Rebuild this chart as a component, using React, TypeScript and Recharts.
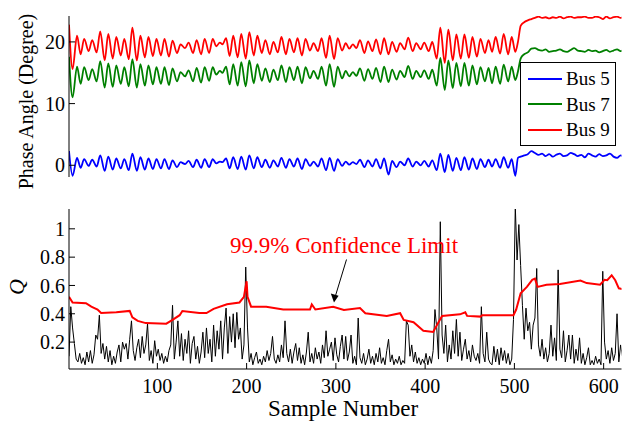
import React from 'react'
import { LineChart, Line, XAxis, YAxis, Legend } from 'recharts'

// top panel: phase angles, read at peaks/troughs of the swing
const samples = [
  1, 5, 10, 14, 18, 23, 27, 32, 36, 41,
  45, 50, 54, 59, 63, 68, 72, 77, 81, 86,
  90, 95, 99, 104, 108, 113, 117, 122, 126, 131,
  135, 140, 144, 149, 153, 158, 162, 166, 170, 173,
  177, 181, 185, 190, 194, 199, 203, 208, 212, 217,
  221, 226, 230, 235, 239, 244, 248, 253, 257, 262,
  266, 271, 275, 280, 284, 289, 293, 298, 302, 307,
  311, 315, 319, 323, 327, 332, 336, 341, 345, 350,
  354, 359, 363, 368, 372, 377, 381, 386, 390, 395,
  399, 404, 408, 413, 417, 422, 426, 431, 435, 440,
  444, 449, 453, 458, 462, 467, 471, 475, 479, 484,
  488, 493, 497, 501, 504, 507, 511, 515, 519, 523,
  527, 531, 535, 539, 543, 547, 551, 555, 559, 563,
  567, 571, 575, 579, 583, 587, 591, 595, 599, 603,
  607, 611, 615, 619, 621,
]

const bus9 = [
  22.8, 15.6, 21.0, 18.0, 20.5, 18.5, 20.3, 18.3, 21.7, 17.0,
  21.3, 17.3, 20.8, 17.8, 20.5, 17.2, 22.3, 17.0, 21.0, 17.5,
  20.8, 17.7, 20.5, 17.8, 20.5, 17.6, 20.2, 18.2, 19.6, 19.0,
  19.9, 18.2, 20.3, 18.0, 20.5, 18.2, 20.5, 19.3, 19.9, 19.6,
  20.6, 17.7, 21.0, 17.5, 21.3, 17.3, 21.6, 17.8, 21.0, 18.2,
  20.3, 18.0, 20.0, 18.3, 20.8, 18.0, 20.5, 18.3, 20.6, 17.8,
  20.5, 18.6, 19.8, 18.5, 20.6, 17.4, 21.0, 17.2, 20.6, 18.6,
  19.8, 18.9, 19.6, 19.0, 20.3, 18.2, 20.1, 18.5, 20.4, 18.0,
  20.6, 18.0, 20.0, 18.4, 19.8, 18.8, 20.7, 18.5, 19.8, 18.8,
  19.9, 18.5, 20.0, 17.3, 22.3, 16.6, 22.0, 17.0, 21.2, 17.3,
  21.2, 17.4, 20.8, 17.6, 20.5, 18.2, 20.3, 18.4, 20.8, 18.1,
  21.3, 18.0, 20.8, 18.4, 20.0, 22.6, 23.2, 23.5, 23.7, 23.9,
  24.1, 23.9, 24.0, 23.8, 24.0, 23.9, 24.1, 23.8, 24.0, 24.1,
  23.9, 24.0, 24.0, 24.1, 23.9, 23.9, 24.1, 24.0, 23.7, 24.1,
  23.8, 24.0, 24.1, 23.9, 24.0,
]

const bus7 = [
  17.6, 11.0, 16.0, 13.2, 15.9, 13.8, 15.6, 13.6, 16.9, 12.6,
  16.5, 12.7, 16.2, 13.2, 15.9, 12.8, 17.2, 12.6, 16.4, 12.9,
  16.2, 13.1, 15.9, 13.2, 15.9, 13.0, 15.7, 13.6, 15.1, 14.4,
  15.4, 13.6, 15.8, 13.4, 15.9, 13.7, 15.9, 14.7, 15.3, 15.0,
  16.0, 13.1, 16.4, 12.9, 16.7, 12.8, 17.0, 13.3, 16.4, 13.7,
  15.7, 13.5, 15.5, 13.8, 16.2, 13.5, 15.9, 13.8, 16.0, 13.3,
  15.9, 14.1, 15.3, 14.0, 16.0, 12.9, 16.4, 12.7, 16.0, 14.1,
  15.3, 14.4, 15.1, 14.5, 15.7, 13.7, 15.6, 14.0, 15.8, 13.5,
  16.0, 13.5, 15.5, 13.9, 15.3, 14.3, 16.1, 14.0, 15.3, 14.3,
  15.4, 14.0, 15.5, 12.9, 17.4, 12.2, 17.0, 12.5, 16.6, 12.8,
  16.6, 12.9, 16.2, 13.1, 15.9, 13.6, 15.8, 13.3, 16.0, 13.2,
  16.3, 13.6, 16.0, 13.8, 15.2, 17.3, 18.0, 18.3, 18.9, 19.0,
  18.7, 18.6, 18.8, 18.4, 18.5, 18.6, 18.8, 18.5, 18.4, 18.7,
  19.0, 18.6, 18.5, 18.4, 18.7, 18.5, 18.6, 18.3, 18.5, 18.7,
  18.4, 18.6, 18.8, 18.5, 18.6,
]

const bus5 = [
  2.3, -1.7, 1.2, -0.4, 1.0, -0.1, 0.9, -0.2, 1.6, -0.9,
  1.4, -0.7, 1.1, -0.5, 1.0, -0.8, 1.9, -0.9, 1.3, -0.7,
  1.1, -0.6, 1.0, -0.5, 1.0, -0.6, 0.8, -0.3, 0.5, 0.2,
  0.7, -0.3, 0.9, -0.4, 1.0, -0.3, 1.0, 0.3, 0.6, 0.5,
  1.1, -0.5, 1.3, -0.6, 1.4, -0.7, 1.6, -0.5, 1.3, -0.3,
  0.9, -0.4, 0.8, -0.2, 1.2, -0.4, 1.0, -0.2, 1.1, -0.6,
  1.0, -0.1, 0.6, -0.2, 1.1, -0.8, 1.2, -0.9, 1.0, -0.1,
  0.6, 0.1, 0.5, 0.2, 0.9, -0.3, 0.8, -0.2, 1.0, -0.5,
  1.1, -1.5, 0.7, -0.3, 0.6, 0.0, 1.1, -0.2, 0.6, 0.0,
  0.7, -0.2, 0.8, -0.8, 1.9, -1.1, 1.7, -0.9, 1.2, -0.8,
  1.3, -0.7, 1.1, -0.6, 1.0, -0.3, 0.9, -0.2, 1.0, -0.4,
  1.3, -0.4, 1.0, -1.7, 1.2, 1.4, 1.6, 1.8, 2.3, 2.0,
  1.7, 1.9, 1.5, 1.8, 1.4, 1.7, 1.9, 1.5, 1.6, 2.0,
  1.8, 1.5, 1.7, 1.3, 1.9, 1.6, 1.4, 1.8, 1.5, 1.6,
  1.9, 1.4, 1.2, 1.6, 1.5,
]

// bottom panel: Q statistic, one value every second sample starting at 1
const qStat = [
  0.10, 0.45, 0.30, 0.19, 0.08, 0.06, 0.12, 0.05, 0.09, 0.04,
  0.13, 0.06, 0.14, 0.05, 0.11, 0.25, 0.22, 0.39, 0.12, 0.19,
  0.08, 0.17, 0.06, 0.14, 0.04, 0.10, 0.05, 0.13, 0.18, 0.06,
  0.20, 0.15, 0.19, 0.08, 0.22, 0.35, 0.14, 0.07, 0.16, 0.22,
  0.09, 0.24, 0.12, 0.18, 0.33, 0.07, 0.14, 0.05, 0.21, 0.10,
  0.15, 0.07, 0.12, 0.05, 0.10, 0.06, 0.14, 0.18, 0.46, 0.08,
  0.20, 0.35, 0.10, 0.26, 0.07, 0.22, 0.12, 0.28, 0.05, 0.19,
  0.24, 0.08, 0.17, 0.05, 0.13, 0.27, 0.09, 0.30, 0.12, 0.22,
  0.06, 0.32, 0.10, 0.28, 0.15, 0.35, 0.08, 0.30, 0.44, 0.12,
  0.38, 0.20, 0.40, 0.16, 0.41, 0.22, 0.30, 0.08, 0.18, 0.73,
  0.30, 0.06, 0.12, 0.04, 0.09, 0.13, 0.05, 0.08, 0.04, 0.10,
  0.06, 0.14, 0.07, 0.12, 0.24, 0.08, 0.05, 0.11, 0.06, 0.18,
  0.09, 0.35, 0.12, 0.06, 0.15, 0.05, 0.13, 0.19, 0.07, 0.16,
  0.05, 0.11, 0.04, 0.13, 0.27, 0.06, 0.12, 0.05, 0.16, 0.08,
  0.13, 0.05, 0.18, 0.09, 0.28, 0.10, 0.15, 0.20, 0.07, 0.23,
  0.11, 0.06, 0.17, 0.25, 0.08, 0.24, 0.07, 0.13, 0.25, 0.05,
  0.10, 0.04, 0.37, 0.09, 0.05, 0.12, 0.04, 0.08, 0.15, 0.05,
  0.10, 0.04, 0.12, 0.06, 0.16, 0.05, 0.09, 0.04, 0.14, 0.22,
  0.06, 0.11, 0.04, 0.08, 0.05, 0.10, 0.04, 0.07, 0.05, 0.35,
  0.32, 0.10, 0.18, 0.06, 0.13, 0.05, 0.09, 0.04, 0.08, 0.05,
  0.12, 0.04, 0.10, 0.05, 0.14, 0.43, 0.30, 0.08, 1.05, 0.25,
  0.12, 0.32, 0.06, 0.18, 0.08, 0.28, 0.12, 0.36, 0.10, 0.27,
  0.07, 0.15, 0.22, 0.08, 0.14, 0.06, 0.18, 0.10, 0.07, 0.12,
  0.05, 0.45, 0.12, 0.06, 0.27, 0.08, 0.05, 0.04, 0.17, 0.06,
  0.15, 0.04, 0.16, 0.07, 0.14, 0.05, 0.12, 0.04, 0.08, 0.36,
  1.16, 0.78, 1.03, 0.74, 0.46, 0.22, 0.44, 0.28, 0.34, 0.15,
  0.32, 0.37, 0.72, 0.18, 0.10, 0.22, 0.08, 0.16, 0.06, 0.12,
  0.32, 0.10, 0.23, 0.07, 0.71, 0.15, 0.09, 0.28, 0.06, 0.14,
  0.25, 0.08, 0.25, 0.05, 0.15, 0.07, 0.23, 0.05, 0.12, 0.04,
  0.09, 0.16, 0.04, 0.07, 0.04, 0.10, 0.05, 0.08, 0.04, 0.70,
  0.20, 0.08, 0.14, 0.05, 0.16, 0.07, 0.12, 0.40, 0.06, 0.18,
  0.10,
]

// 99.9% confidence limit
const limitSamples = [
  1, 5, 20, 26, 33, 37, 54, 69, 72, 78,
  87, 110, 117, 125, 128, 147, 155, 163, 178, 192,
  197, 200, 201, 205, 222, 241, 271, 273, 277, 297,
  309, 327, 333, 357, 372, 376, 387, 398, 409, 415,
  419, 439, 445, 447, 462, 464, 499, 502, 507, 514,
  520, 523, 526, 536, 551, 574, 581, 596, 601, 604,
  609, 613, 617, 621,
]
const limitValues = [
  0.52, 0.48, 0.475, 0.45, 0.43, 0.405, 0.41, 0.42, 0.375, 0.35,
  0.334, 0.33, 0.357, 0.39, 0.42, 0.405, 0.405, 0.435, 0.467, 0.48,
  0.52, 0.63, 0.52, 0.45, 0.45, 0.43, 0.43, 0.466, 0.43, 0.45,
  0.427, 0.44, 0.404, 0.385, 0.404, 0.357, 0.34, 0.28, 0.272, 0.34,
  0.385, 0.396, 0.41, 0.385, 0.38, 0.39, 0.39, 0.43, 0.545, 0.59,
  0.64, 0.648, 0.59, 0.605, 0.61, 0.635, 0.617, 0.605, 0.64, 0.637,
  0.672, 0.637, 0.58, 0.575,
]

const phaseTicks = [0, 10, 20]
const qTicks = [0.2, 0.4, 0.6, 0.8, 1]
const sampleTicks = [100, 200, 300, 400, 500, 600]

const FONT = '"Liberation Serif", "Times New Roman", serif'
const X_DOMAIN: [number, number] = [1, 620]

const phaseData = samples.map((s, i) => ({ s, bus5: bus5[i], bus7: bus7[i], bus9: bus9[i] }))
const qData = qStat.map((q, i) => ({ s: 1 + i * 2, q }))
const limitData = limitSamples.map((s, i) => ({ s, limit: limitValues[i] }))

const tickFont = { fill: '#000', fontSize: 20, fontFamily: FONT }
const black = { stroke: '#000', strokeWidth: 1 }

function PhaseLegend({ payload }: any) {
  return (
    <div
      style={{
        width: 96,
        height: 84,
        boxSizing: 'border-box',
        border: '1px solid #000',
        background: '#fff',
        paddingTop: 3,
      }}
    >
      {(payload || []).map((p: any) => (
        <div key={p.value} style={{ display: 'flex', alignItems: 'center', height: 25.5 }}>
          <span style={{ width: 34, borderTop: `2px solid ${p.color}`, marginLeft: 7, marginRight: 4 }} />
          <span style={{ fontFamily: FONT, fontSize: 19, lineHeight: 1, color: '#000' }}>{p.value}</span>
        </div>
      ))}
    </div>
  )
}

export default function App() {
  return (
    <div style={{ position: 'relative', width: 626, height: 423, background: '#fff' }}>
      <style>{'body{margin:0}'}</style>

      <div style={{ position: 'absolute', left: 0, top: 0 }}>
        <LineChart width={626} height={200} data={phaseData} margin={{ top: 16, right: 4.5, bottom: 23, left: 29 }}>
          <XAxis dataKey="s" type="number" domain={X_DOMAIN} allowDataOverflow tick={false} tickLine={false} height={0} axisLine={black} />
          <XAxis xAxisId="top" orientation="top" dataKey="s" type="number" domain={X_DOMAIN} allowDataOverflow tick={false} tickLine={false} height={0} axisLine={black} />
          <YAxis
            domain={[-1.9, 24.2]}
            allowDataOverflow
            ticks={phaseTicks}
            width={40}
            tickSize={-6}
            tickMargin={10}
            tick={tickFont}
            axisLine={black}
            tickLine={black}
          />
          <YAxis
            yAxisId="r"
            orientation="right"
            domain={[-1.9, 24.2]}
            allowDataOverflow
            ticks={phaseTicks}
            width={0}
            tick={false}
            tickSize={-6}
            axisLine={black}
            tickLine={black}
          />
          <Line dataKey="bus5" name="Bus 5" type="monotone" stroke="#0000ff" strokeWidth={1.8} dot={false} isAnimationActive={false} />
          <Line dataKey="bus7" name="Bus 7" type="monotone" stroke="#008000" strokeWidth={1.8} dot={false} isAnimationActive={false} />
          <Line dataKey="bus9" name="Bus 9" type="monotone" stroke="#ff0000" strokeWidth={1.8} dot={false} isAnimationActive={false} />
          <Legend
            layout="vertical"
            align="center"
            verticalAlign="middle"
            content={PhaseLegend}
            wrapperStyle={{ position: 'absolute', left: 520, top: 62, width: 96, height: 84 }}
          />
        </LineChart>
      </div>

      <div style={{ position: 'absolute', left: 0, top: 190 }}>
        <LineChart width={626} height={233} margin={{ top: 19, right: 4.5, bottom: 24, left: 29 }}>
          <XAxis
            dataKey="s"
            type="number"
            domain={X_DOMAIN}
            allowDataOverflow
            ticks={sampleTicks}
            height={30}
            tickSize={-6}
            tickMargin={16}
            tick={tickFont}
            axisLine={black}
            tickLine={black}
          />
          <XAxis
            xAxisId="top"
            orientation="top"
            dataKey="s"
            type="number"
            domain={X_DOMAIN}
            allowDataOverflow
            ticks={sampleTicks}
            height={0}
            tick={false}
            tickSize={-6}
            axisLine={black}
            tickLine={black}
          />
          <YAxis
            domain={[0.01, 1.14]}
            allowDataOverflow
            ticks={qTicks}
            width={40}
            tickSize={-6}
            tickMargin={10}
            tick={tickFont}
            axisLine={black}
            tickLine={black}
          />
          <YAxis
            yAxisId="r"
            orientation="right"
            domain={[0.01, 1.14]}
            allowDataOverflow
            ticks={qTicks}
            width={0}
            tick={false}
            tickSize={-6}
            axisLine={black}
            tickLine={black}
          />
          <Line data={qData} dataKey="q" type="linear" stroke="#000" strokeWidth={1} dot={false} isAnimationActive={false} />
          <Line data={limitData} dataKey="limit" type="linear" stroke="#ff0000" strokeWidth={2} dot={false} isAnimationActive={false} />
        </LineChart>
      </div>

      <svg width={626} height={423} style={{ position: 'absolute', left: 0, top: 0, pointerEvents: 'none' }}>
        <text x={33} y={101.5} transform="rotate(-90 33 101.5)" textAnchor="middle" fontFamily={FONT} fontSize={20} fill="#000">
          Phase Angle (Degree)
        </text>
        <text x={24} y={287} transform="rotate(-90 24 287)" textAnchor="middle" fontFamily={FONT} fontSize={22} fontStyle="italic" fill="#000">
          Q
        </text>
        <text x={343} y={415.5} textAnchor="middle" fontFamily={FONT} fontSize={23} fill="#000">
          Sample Number
        </text>
        <text x={230} y={253} fontFamily={FONT} fontSize={23} fill="#ff0000">
          99.9% Confidence Limit
        </text>
        <line x1={346.5} y1={259.5} x2={334.8} y2={298} stroke="#000" strokeWidth={1} />
        <polygon points="334,302.5 330.8,293.5 338.6,295.7" fill="#000" />
      </svg>
    </div>
  )
}
